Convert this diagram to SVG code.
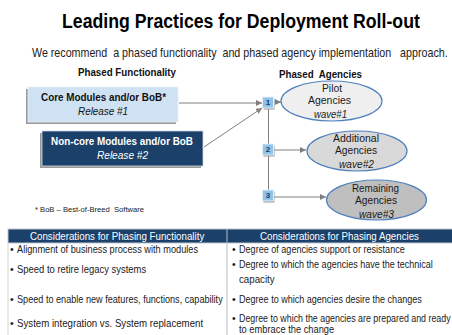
<svg xmlns="http://www.w3.org/2000/svg" width="452" height="335" viewBox="0 0 452 335">
  <defs>
    <marker id="arrow" markerUnits="userSpaceOnUse" markerWidth="6" markerHeight="6" refX="6" refY="3" orient="auto">
      <path d="M0,0 L6,3 L0,6 z" fill="#7f7f7f"/>
    </marker>
  </defs>
  <style>
    text { font-family: "Liberation Sans", Arial, sans-serif; }
    .title { font-size: 21px; font-weight: bold; fill: #000; }
    .sub { font-size: 12px; fill: #222; }
    .head { font-size: 11px; font-weight: bold; fill: #111; }
    .boxt { font-size: 11.5px; font-weight: bold; }
    .rel { font-size: 11.5px; font-style: italic; }
    .ell { font-size: 11px; fill: #1a1a1a; }
    .wave { font-size: 11px; font-style: italic; fill: #1a1a1a; }
    .num { font-size: 8px; font-weight: bold; fill: #1f3864; }
    .step { fill: #8ec3ea; stroke: #e8f0f8; stroke-width: 1; }
    .shadow { fill: #9a9a9a; }
    .conn { stroke: #7f7f7f; stroke-width: 1; fill: none; }
    .th { font-size: 11.5px; fill: #fff; }
    .td { font-size: 10.5px; fill: #1a1a1a; }
    .note { font-size: 7.5px; fill: #222; }
  </style>

  <rect width="452" height="335" fill="#fff"/>

  <!-- heading (condensed lettering via horizontal scale) -->
  <text class="title" transform="translate(62 28) scale(0.84 1)" x="0" y="0" textLength="426" lengthAdjust="spacingAndGlyphs">Leading Practices for Deployment Roll-out</text>
  <text class="sub" transform="translate(32 57) scale(0.85 1)" x="0" y="0" textLength="489" lengthAdjust="spacingAndGlyphs" xml:space="preserve">We recommend  a phased functionality  and phased agency implementation   approach.</text>
  <text class="head" x="78" y="76" textLength="98" lengthAdjust="spacingAndGlyphs">Phased Functionality</text>
  <text class="head" x="279" y="78" textLength="83" lengthAdjust="spacingAndGlyphs" xml:space="preserve">Phased  Agencies</text>

  <!-- connectors -->
  <g id="connectors">
    <line class="conn" x1="179" y1="103" x2="262" y2="103" marker-end="url(#arrow)"/>
    <line class="conn" x1="204" y1="147" x2="262" y2="108" marker-end="url(#arrow)"/>
    <line class="conn" x1="268.5" y1="108" x2="268.5" y2="190"/>
    <line class="conn" x1="274" y1="102" x2="281" y2="102" marker-end="url(#arrow)"/>
    <line class="conn" x1="274" y1="150" x2="306" y2="150" marker-end="url(#arrow)"/>
    <line class="conn" x1="274" y1="197" x2="326" y2="197" marker-end="url(#arrow)"/>
  </g>

  <!-- release boxes -->
  <g id="node-core">
    <rect class="shadow" x="26" y="89" width="150" height="35"/>
    <rect x="28" y="87" width="150" height="35" fill="#cfe2f3" stroke="#e6eef7" stroke-width="0.8"/>
    <text class="boxt" x="41" y="100.5" fill="#111" textLength="125" lengthAdjust="spacingAndGlyphs">Core Modules and/or BoB*</text>
    <text class="rel" x="78" y="115" fill="#111" textLength="50" lengthAdjust="spacingAndGlyphs">Release #1</text>
  </g>
  <g id="node-noncore">
    <rect class="shadow" x="40" y="133" width="161" height="35"/>
    <rect x="42" y="131" width="161" height="35" fill="#1b406a" stroke="#d0d8e2" stroke-width="0.8"/>
    <text class="boxt" x="51" y="145" fill="#fff" textLength="142" lengthAdjust="spacingAndGlyphs">Non-core Modules and/or BoB</text>
    <text class="rel" x="97" y="159" fill="#fff" textLength="51" lengthAdjust="spacingAndGlyphs">Release #2</text>
  </g>

  <!-- wave steps -->
  <g id="node-step1">
    <rect class="shadow" x="263.5" y="98.5" width="11" height="11"/>
    <rect class="step" x="262.5" y="97" width="11" height="11"/>
    <text class="num" x="268" y="105" text-anchor="middle">1</text>
  </g>
  <g id="node-step2">
    <rect class="shadow" x="263.5" y="145.5" width="11" height="11"/>
    <rect class="step" x="262.5" y="144" width="11" height="11"/>
    <text class="num" x="268" y="152" text-anchor="middle">2</text>
  </g>
  <g id="node-step3">
    <rect class="shadow" x="263.5" y="191.5" width="11" height="11"/>
    <rect class="step" x="262.5" y="190" width="11" height="11"/>
    <text class="num" x="268" y="198" text-anchor="middle">3</text>
  </g>

  <!-- agency waves -->
  <g id="node-pilot">
    <ellipse cx="331.5" cy="101" rx="50.5" ry="20" fill="#efefef" stroke="#4f81bd" stroke-width="1.2"/>
    <text class="ell" x="322" y="91.5" textLength="20" lengthAdjust="spacingAndGlyphs">Pilot</text>
    <text class="ell" x="308" y="104.3" textLength="43" lengthAdjust="spacingAndGlyphs">Agencies</text>
    <text class="wave" x="314" y="118" textLength="33" lengthAdjust="spacingAndGlyphs">wave#1</text>
  </g>
  <g id="node-additional">
    <ellipse cx="357" cy="151" rx="50" ry="20" fill="#d9d9d9" stroke="#4f81bd" stroke-width="1.2"/>
    <text class="ell" x="333" y="141.5" textLength="46" lengthAdjust="spacingAndGlyphs">Additional</text>
    <text class="ell" x="335" y="154.3" textLength="42" lengthAdjust="spacingAndGlyphs">Agencies</text>
    <text class="wave" x="339" y="167.5" textLength="35" lengthAdjust="spacingAndGlyphs">wave#2</text>
  </g>
  <g id="node-remaining">
    <ellipse cx="376.5" cy="200" rx="50" ry="20" fill="#bfbfbf" stroke="#4f81bd" stroke-width="1.2"/>
    <text class="ell" x="352" y="191.5" textLength="47" lengthAdjust="spacingAndGlyphs">Remaining</text>
    <text class="ell" x="355" y="204.3" textLength="42" lengthAdjust="spacingAndGlyphs">Agencies</text>
    <text class="wave" x="359" y="217.5" textLength="35" lengthAdjust="spacingAndGlyphs">wave#3</text>
  </g>

  <text class="note" x="35" y="212" textLength="109" lengthAdjust="spacingAndGlyphs" xml:space="preserve">* BoB – Best-of-Breed  Software</text>

  <!-- considerations table -->
  <g id="table">
    <rect x="8" y="229" width="446" height="14" fill="#1b406a" stroke="#bfc7d2" stroke-width="1"/>
    <line x1="227" y1="229" x2="227" y2="335" stroke="#b4bcc8" stroke-width="1"/>
    <line x1="8" y1="243" x2="8" y2="335" stroke="#d0d4da" stroke-width="1"/>
    <text class="th" transform="translate(30 240) scale(0.85 1)" x="0" y="0" textLength="205" lengthAdjust="spacingAndGlyphs">Considerations for Phasing Functionality</text>
    <text class="th" transform="translate(260 240) scale(0.85 1)" x="0" y="0" textLength="187" lengthAdjust="spacingAndGlyphs">Considerations for Phasing Agencies</text>

    <!-- left column -->
    <text class="td" x="10" y="253">•</text>
    <text class="td" transform="translate(17 253) scale(0.85 1)" x="0" y="0" textLength="213" lengthAdjust="spacingAndGlyphs">Alignment of business process with modules</text>
    <text class="td" x="10" y="273">•</text>
    <text class="td" transform="translate(17 273) scale(0.85 1)" x="0" y="0" textLength="152" lengthAdjust="spacingAndGlyphs">Speed to retire legacy systems</text>
    <text class="td" x="10" y="303">•</text>
    <text class="td" transform="translate(17 303) scale(0.85 1)" x="0" y="0" textLength="242" lengthAdjust="spacingAndGlyphs">Speed to enable new features, functions, capability</text>
    <text class="td" x="10" y="327">•</text>
    <text class="td" transform="translate(17 327) scale(0.85 1)" x="0" y="0" textLength="219" lengthAdjust="spacingAndGlyphs">System integration vs. System replacement</text>

    <!-- right column -->
    <text class="td" x="232" y="253">•</text>
    <text class="td" transform="translate(239 253) scale(0.85 1)" x="0" y="0" textLength="195" lengthAdjust="spacingAndGlyphs">Degree of agencies support or resistance</text>
    <text class="td" x="232" y="268">•</text>
    <text class="td" transform="translate(239 268) scale(0.85 1)" x="0" y="0" textLength="228" lengthAdjust="spacingAndGlyphs">Degree to which the agencies have the technical</text>
    <text class="td" transform="translate(239 283) scale(0.85 1)" x="0" y="0" textLength="42" lengthAdjust="spacingAndGlyphs">capacity</text>
    <text class="td" x="232" y="303">•</text>
    <text class="td" transform="translate(239 303) scale(0.85 1)" x="0" y="0" textLength="215" lengthAdjust="spacingAndGlyphs">Degree to which agencies desire the changes</text>
    <text class="td" x="232" y="322">•</text>
    <text class="td" transform="translate(239 322) scale(0.85 1)" x="0" y="0" textLength="249" lengthAdjust="spacingAndGlyphs">Degree to which the agencies are prepared and ready</text>
    <text class="td" transform="translate(239 333) scale(0.85 1)" x="0" y="0" textLength="112" lengthAdjust="spacingAndGlyphs">to embrace the change</text>
  </g>
</svg>
